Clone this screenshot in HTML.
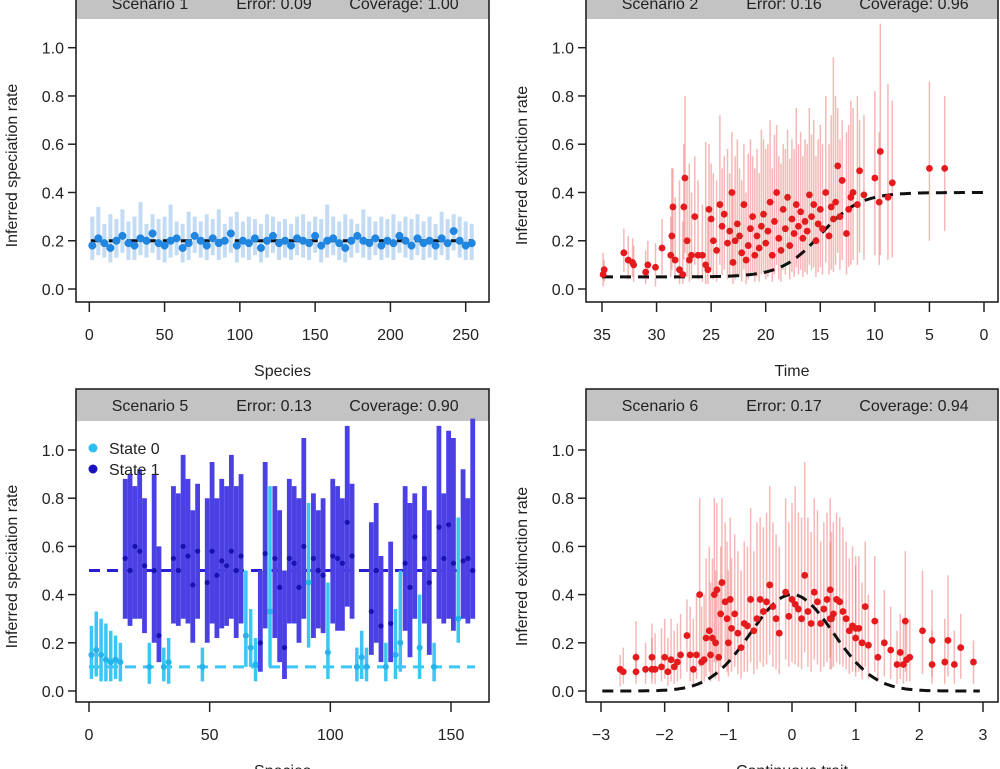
<!DOCTYPE html>
<html><head><meta charset="utf-8"><style>
html,body{margin:0;padding:0;background:#fff;}
svg{display:block;font-family:"Liberation Sans",Arial,sans-serif;}
</style></head><body>
<svg id="fig" width="1000" height="769" viewBox="0 0 1000 769"></svg>
<script>
// ---------- Panel 1 data (Scenario 1) ----------
const p1Mean=[0.18,0.21,0.19,0.17,0.2,0.22,0.19,0.18,0.21,0.2,0.23,0.19,0.18,0.2,0.21,0.17,0.19,0.22,0.2,0.18,0.21,0.19,0.2,0.23,0.18,0.2,0.19,0.21,0.17,0.2,0.22,0.19,0.2,0.18,0.21,0.2,0.19,0.22,0.18,0.2,0.21,0.19,0.17,0.2,0.22,0.2,0.19,0.21,0.18,0.2,0.19,0.22,0.2,0.18,0.21,0.19,0.2,0.18,0.21,0.19,0.24,0.2,0.18,0.19];
const p1Hi=[0.3,0.34,0.27,0.31,0.29,0.33,0.28,0.3,0.36,0.27,0.31,0.29,0.3,0.35,0.28,0.27,0.32,0.3,0.28,0.31,0.29,0.33,0.27,0.3,0.32,0.28,0.3,0.29,0.27,0.31,0.3,0.28,0.29,0.27,0.3,0.31,0.28,0.3,0.29,0.35,0.3,0.28,0.31,0.29,0.27,0.33,0.3,0.28,0.3,0.29,0.31,0.28,0.3,0.29,0.31,0.28,0.3,0.27,0.32,0.29,0.31,0.3,0.28,0.27];
const p1Lo=[0.12,0.14,0.13,0.11,0.13,0.15,0.12,0.12,0.14,0.13,0.15,0.12,0.11,0.13,0.14,0.11,0.12,0.15,0.13,0.12,0.14,0.12,0.13,0.15,0.11,0.13,0.12,0.14,0.11,0.13,0.15,0.12,0.13,0.12,0.14,0.13,0.12,0.15,0.11,0.13,0.14,0.12,0.11,0.13,0.15,0.13,0.12,0.14,0.12,0.13,0.12,0.15,0.13,0.12,0.14,0.12,0.13,0.12,0.14,0.12,0.16,0.13,0.12,0.12];
const p1Truth=[0.2];
// ---------- Panel 2 data (Scenario 2) ----------
const p2Time=[34.9,34.8,33.0,32.6,32.2,32.1,31.0,30.8,30.1,29.5,
28.7,28.6,28.5,28.3,27.9,27.6,27.5,27.4,27.2,27.0,
26.8,26.5,26.2,25.8,25.5,25.3,25.2,25.0,24.8,24.5,
24.2,24.0,23.8,23.5,23.3,23.1,23.0,22.8,22.6,22.4,
22.2,22.0,21.8,21.6,21.4,21.2,21.0,20.8,20.6,20.4,
20.2,20.0,19.8,19.6,19.4,19.2,19.0,18.8,18.6,18.4,
18.2,18.0,17.8,17.6,17.4,17.2,17.0,16.8,16.6,16.4,
16.2,16.0,15.8,15.6,15.4,15.2,15.0,14.8,14.5,14.2,
14.0,13.8,13.6,13.4,13.2,13.0,12.6,12.4,12.2,12.0,
11.6,11.4,11.0,10.0,9.6,9.5,8.8,8.4,5.0,3.6];
const p2Mean=[0.06,0.08,0.15,0.12,0.11,0.10,0.07,0.10,0.09,0.17,
0.14,0.22,0.34,0.12,0.08,0.06,0.34,0.46,0.20,0.12,
0.14,0.30,0.14,0.14,0.10,0.08,0.33,0.29,0.20,0.16,
0.35,0.26,0.31,0.19,0.24,0.40,0.11,0.20,0.27,0.22,
0.15,0.35,0.12,0.18,0.25,0.30,0.14,0.22,0.17,0.26,
0.31,0.19,0.24,0.36,0.14,0.28,0.40,0.21,0.16,0.33,
0.25,0.38,0.18,0.29,0.23,0.35,0.26,0.32,0.21,0.28,
0.24,0.39,0.30,0.35,0.20,0.27,0.33,0.25,0.40,0.22,
0.34,0.29,0.36,0.51,0.30,0.45,0.23,0.33,0.38,0.40,
0.35,0.49,0.39,0.46,0.36,0.57,0.38,0.44,0.50,0.50];
const p2Hi=[0.15,0.12,0.25,0.22,0.21,0.18,0.16,0.20,0.19,0.29,
0.30,0.50,0.50,0.38,0.45,0.28,0.60,0.80,0.45,0.52,
0.40,0.55,0.45,0.35,0.61,0.30,0.60,0.52,0.48,0.45,
0.72,0.50,0.55,0.58,0.48,0.65,0.40,0.55,0.62,0.50,
0.45,0.60,0.40,0.56,0.62,0.55,0.50,0.58,0.48,0.66,
0.62,0.58,0.60,0.70,0.50,0.64,0.68,0.55,0.52,0.60,
0.58,0.66,0.54,0.62,0.58,0.75,0.60,0.65,0.55,0.62,
0.60,0.75,0.64,0.70,0.55,0.62,0.68,0.60,0.80,0.60,
0.72,0.96,0.80,0.75,0.62,0.70,0.65,0.68,0.78,0.75,
0.80,0.70,0.72,0.82,0.65,1.10,0.85,0.78,0.86,0.80];
const p2Lo=[0.01,0.03,0.07,0.04,0.05,0.03,0.02,0.04,0.01,0.06,
0.05,0.08,0.12,0.04,0.02,0.02,0.12,0.15,0.05,0.03,
0.04,0.10,0.04,0.03,0.02,0.02,0.10,0.08,0.04,0.03,
0.10,0.06,0.08,0.04,0.06,0.10,0.02,0.04,0.06,0.05,
0.03,0.08,0.02,0.04,0.06,0.07,0.03,0.05,0.03,0.06,
0.07,0.04,0.05,0.08,0.03,0.06,0.10,0.04,0.03,0.08,
0.06,0.10,0.04,0.07,0.05,0.09,0.06,0.08,0.05,0.07,
0.06,0.10,0.08,0.09,0.05,0.07,0.09,0.06,0.11,0.06,
0.08,0.07,0.10,0.15,0.08,0.12,0.06,0.09,0.10,0.12,
0.10,0.15,0.12,0.14,0.10,0.14,0.12,0.13,0.20,0.24];
const p2Curve=[0.05,0.40,15,1.8]; // low, high, midpoint, scale
// ---------- Panel 3 data (Scenario 5) ----------
const p3State=[0,0,0,0,0,0,0,1,1,1, 1,1,0,1,1,0,0,1,1,1, 1,1,1,0,1,1,1,1,1,1, 1,1,0,0,0,1,1,0,1,1,
1,1,1,1,1,0,1,1,1,0, 1,1,1,1,1,0,0,0,1,1, 1,0,1,0,0,1,1,1,0,1, 1,0,1,1,1,1,0,1,1,1];
const p3Mean=[0.15,0.17,0.15,0.13,0.12,0.13,0.12,0.55,0.5,0.6, 0.58,0.52,0.1,0.5,0.23,0.1,0.12,0.55,0.5,0.6,
0.56,0.44,0.58,0.1,0.45,0.58,0.48,0.54,0.52,0.58, 0.5,0.56,0.23,0.18,0.11,0.2,0.57,0.33,0.55,0.43,
0.18,0.55,0.53,0.43,0.6,0.45,0.55,0.5,0.48,0.16, 0.56,0.55,0.53,0.7,0.56,0.1,0.14,0.1,0.33,0.5,
0.27,0.1,0.28,0.15,0.2,0.53,0.43,0.64,0.18,0.55, 0.45,0.1,0.68,0.55,0.69,0.53,0.3,0.54,0.55,0.5];
const p3Hi=[0.27,0.33,0.3,0.28,0.25,0.23,0.2,0.88,0.9,0.85, 0.92,0.8,0.2,0.9,0.6,0.18,0.22,0.85,0.82,0.98,
0.88,0.75,0.86,0.18,0.8,0.95,0.8,0.88,0.85,0.98, 0.85,0.9,0.5,0.34,0.22,0.5,0.95,0.85,0.85,0.75,
0.5,0.88,0.85,0.8,1.05,0.78,0.82,0.75,0.8,0.45, 0.88,0.85,0.8,1.1,0.86,0.18,0.25,0.18,0.7,0.78,
0.56,0.2,0.62,0.34,0.5,0.85,0.78,0.82,0.4,0.85, 0.75,0.2,1.1,0.82,1.08,1.05,0.72,0.92,0.8,1.13];
const p3Lo=[0.05,0.06,0.04,0.04,0.04,0.05,0.04,0.3,0.27,0.3, 0.3,0.24,0.03,0.2,0.12,0.04,0.03,0.28,0.27,0.3,
0.28,0.2,0.3,0.04,0.2,0.28,0.22,0.26,0.27,0.3, 0.22,0.28,0.1,0.1,0.04,0.08,0.26,0.1,0.22,0.12,
0.05,0.28,0.28,0.2,0.3,0.18,0.22,0.26,0.24,0.05, 0.28,0.25,0.25,0.35,0.3,0.04,0.05,0.04,0.15,0.2,
0.12,0.04,0.12,0.05,0.08,0.25,0.14,0.3,0.05,0.28, 0.15,0.04,0.3,0.28,0.3,0.25,0.2,0.3,0.28,0.3];
const p3Truth=[0.1,0.5];
// ---------- Panel 4 data (Scenario 6) ----------
const p4Trait=[-2.7,-2.65,-2.45,-2.45,-2.3,-2.2,-2.2,-2.15,-2.05,-2.0,
-1.95,-1.9,-1.85,-1.8,-1.75,-1.65,-1.6,-1.55,-1.5,-1.45,
-1.42,-1.38,-1.35,-1.3,-1.28,-1.25,-1.22,-1.2,-1.18,-1.15,
-1.12,-1.1,-1.05,-1.02,-1.0,-0.97,-0.95,-0.9,-0.85,-0.8,
-0.75,-0.7,-0.65,-0.6,-0.55,-0.5,-0.45,-0.4,-0.35,-0.3,
-0.25,-0.2,-0.1,-0.05,0.0,0.05,0.1,0.15,0.2,0.25,
0.3,0.35,0.4,0.45,0.5,0.55,0.6,0.62,0.65,0.7,
0.75,0.8,0.85,0.9,0.95,1.0,1.05,1.1,1.15,1.2,
1.3,1.35,1.45,1.55,1.65,1.7,1.75,1.78,1.8,1.85,
2.05,2.2,2.2,2.4,2.45,2.55,2.65,2.85,1.0,0.6];
const p4Mean=[0.09,0.08,0.14,0.08,0.09,0.14,0.09,0.09,0.1,0.14,
0.08,0.13,0.1,0.12,0.15,0.23,0.15,0.09,0.15,0.4,
0.12,0.13,0.22,0.25,0.15,0.22,0.4,0.2,0.42,0.14,
0.32,0.45,0.37,0.3,0.2,0.38,0.26,0.32,0.24,0.18,
0.28,0.27,0.38,0.25,0.3,0.38,0.33,0.37,0.44,0.35,
0.3,0.24,0.41,0.31,0.38,0.36,0.34,0.3,0.48,0.33,
0.28,0.41,0.37,0.28,0.34,0.38,0.42,0.3,0.32,0.38,
0.37,0.33,0.3,0.25,0.27,0.22,0.26,0.2,0.35,0.19,
0.29,0.14,0.2,0.17,0.11,0.16,0.11,0.29,0.13,0.14,
0.25,0.11,0.21,0.12,0.21,0.11,0.18,0.12,0.26,0.3];
const p4Hi=[0.15,0.18,0.29,0.16,0.2,0.28,0.22,0.24,0.26,0.3,
0.22,0.3,0.25,0.28,0.32,0.38,0.35,0.3,0.4,0.8,
0.35,0.4,0.55,0.6,0.45,0.55,0.8,0.5,0.78,0.45,
0.6,0.8,0.7,0.62,0.5,0.72,0.55,0.65,0.58,0.5,
0.62,0.6,0.76,0.58,0.7,0.72,0.68,0.74,0.85,0.7,
0.65,0.6,0.8,0.7,0.78,0.85,0.74,0.72,0.95,0.72,
0.66,0.8,0.75,0.62,0.7,0.74,0.8,0.66,0.7,0.74,
0.72,0.68,0.62,0.55,0.6,0.52,0.56,0.45,0.62,0.4,
0.56,0.3,0.42,0.35,0.25,0.32,0.28,0.58,0.3,0.3,
0.5,0.25,0.42,0.3,0.48,0.25,0.32,0.21,0.56,0.62];
const p4Lo=[0.02,0.03,0.06,0.03,0.03,0.05,0.03,0.03,0.04,0.05,
0.02,0.04,0.03,0.04,0.05,0.08,0.04,0.02,0.05,0.1,
0.04,0.04,0.06,0.08,0.04,0.06,0.12,0.05,0.12,0.04,
0.1,0.15,0.12,0.08,0.06,0.12,0.08,0.1,0.07,0.05,
0.08,0.08,0.12,0.07,0.09,0.12,0.1,0.11,0.15,0.1,
0.09,0.07,0.13,0.1,0.12,0.11,0.1,0.09,0.16,0.1,
0.08,0.13,0.11,0.08,0.1,0.12,0.14,0.09,0.1,0.12,
0.11,0.1,0.09,0.07,0.08,0.06,0.08,0.05,0.1,0.05,
0.08,0.04,0.06,0.05,0.03,0.05,0.03,0.08,0.04,0.04,
0.07,0.03,0.06,0.03,0.06,0.03,0.05,0.03,0.08,0.09];
const p4Curve=[0.4,0,0.645]; // peak, centre, sd
// ---------- tick labels ----------
const yTicks=[0,0.2,0.4,0.6,0.8,1.0];
const p1XTicks=[0,50,100,150,200,250];
const p2XTicks=[35,30,25,20,15,10,5,0];
const p3XTicks=[0,50,100,150];
const p4XTicks=[-3,-2,-1,0,1,2,3];

const NS='http://www.w3.org/2000/svg';
const svg=document.getElementById('fig');
function mk(tag,attrs,parent,name,inter){
  const e=document.createElementNS(NS,tag);
  for(const k in attrs)e.setAttribute(k,attrs[k]);
  
  
  (parent||svg).appendChild(e);return e;
}
function lin(d0,d1,p0,p1){return v=>p0+(v-d0)*(p1-p0)/(d1-d0);}
const FS=16;

function panel(cfg){
  const g=mk('g',{},svg,cfg.name,false);
  const sx=lin(cfg.xd[0],cfg.xd[1],cfg.xp[0],cfg.xp[1]);
  const sy=lin(0,1,cfg.y0,cfg.y1);
  mk('rect',{x:cfg.L,y:cfg.T,width:cfg.R-cfg.L,height:32,fill:'#c3c3c3'},g,'panel-header',false);
  const hy=cfg.T+22;
  cfg.header.forEach((h,i)=>{const t=mk('text',{x:cfg.L+[74,198,328][i],y:hy,'font-size':FS,'text-anchor':'middle',fill:'#222'},g,'header-'+['scenario','error','coverage'][i],false);t.textContent=h;});
  yTicks.forEach(v=>{
    mk('line',{x1:cfg.L-8,x2:cfg.L,y1:sy(v),y2:sy(v),stroke:'#222','stroke-width':1.5},g,'y-tick',false);
    const t=mk('text',{x:cfg.L-12,y:sy(v)+6,'font-size':FS,'text-anchor':'end',fill:'#222'},g,'y-tick-label',false);t.textContent=v.toFixed(1);
  });
  cfg.xticks.forEach(v=>{
    mk('line',{x1:sx(v),x2:sx(v),y1:cfg.B,y2:cfg.B+10,stroke:'#222','stroke-width':1.5},g,'x-tick',false);
    const t=mk('text',{x:sx(v),y:cfg.B+38,'font-size':FS,'text-anchor':'middle',fill:'#222'},g,'x-tick-label',false);t.textContent=v<0?'\u2212'+(-v):String(v);
  });
  const yt=mk('text',{x:0,y:0,'font-size':FS,'text-anchor':'middle',fill:'#222',transform:`translate(${cfg.L-59},${(cfg.T+32+cfg.B)/2+5}) rotate(-90)`},g,'y-axis-title',false);yt.textContent=cfg.ylab;
  const xt=mk('text',{x:(cfg.L+cfg.R)/2,y:cfg.B+74,'font-size':FS,'text-anchor':'middle',fill:'#222'},g,'x-axis-title',false);xt.textContent=cfg.xlab;
  const plot=mk('g',{},g,'plot-area',false);
  cfg.draw(plot,sx,sy);
  mk('rect',{x:cfg.L,y:cfg.T,width:cfg.R-cfg.L,height:cfg.B-cfg.T,fill:'none',stroke:'#222','stroke-width':1.6},g,'panel-frame',false);
}
function bars(g,xs,lo,hi,sx,sy,color,w,op,name){
  xs.forEach((x,i)=>{mk('line',{x1:sx(x),x2:sx(x),y1:sy(lo[i]),y2:sy(hi[i]),stroke:color,'stroke-width':w,'stroke-opacity':op},g,name,false);});
}
function dots(g,xs,ys,sx,sy,color,r,name){
  xs.forEach((x,i)=>{mk('circle',{cx:sx(x),cy:sy(ys[i]),r:r,fill:color},g,name,false);});
}
function curve(g,f,x0,x1,sx,sy,color,name){
  let d='';for(let k=0;k<=200;k++){const x=x0+(x1-x0)*k/200;d+=(k?'L':'M')+sx(x).toFixed(1)+','+sy(f(x)).toFixed(1);}
  mk('path',{d:d,fill:'none',stroke:color,'stroke-width':3,'stroke-dasharray':'11 7'},g,name,false);
}

const LEFT={L:76,R:489}, RIGHT={L:586,R:998};
const TOP={T:-13,B:302,y0:289,y1:47.7}, BOT={T:389,B:702,y0:691,y1:450};
const p1Species=p1Mean.map((_,i)=>2+i*4);
const p3Species=p3Mean.map((_,i)=>1+i*2);

panel(Object.assign({name:'panel-scenario-1',header:['Scenario 1','Error: 0.09','Coverage: 1.00'],xd:[0,250],xp:[89.3,465.7],xticks:p1XTicks,ylab:'Inferred speciation rate',xlab:'Species',
 draw:(g,sx,sy)=>{
  bars(g,p1Species,p1Lo,p1Hi,sx,sy,'#bcd8f3',4,0.9,'error-bar');
  curve(g,()=>p1Truth[0],1,255,sx,sy,'#111','true-rate-line');
  dots(g,p1Species,p1Mean,sx,sy,'#2186e0',4,'estimate-point');
 }},LEFT,TOP));

panel(Object.assign({name:'panel-scenario-2',header:['Scenario 2','Error: 0.16','Coverage: 0.96'],xd:[35,0],xp:[602,984],xticks:p2XTicks,ylab:'Inferred extinction rate',xlab:'Time',
 draw:(g,sx,sy)=>{
  bars(g,p2Time,p2Lo,p2Hi,sx,sy,'#f07070',1.5,0.5,'error-bar');
  const [lo,hi,mid,sc]=p2Curve;
  curve(g,t=>lo+(hi-lo)/(1+Math.exp((t-mid)/sc)),35,0,sx,sy,'#111','true-rate-line');
  dots(g,p2Time,p2Mean,sx,sy,'#e41a1c',3.4,'estimate-point');
 }},RIGHT,TOP));

panel(Object.assign({name:'panel-scenario-5',header:['Scenario 5','Error: 0.13','Coverage: 0.90'],xd:[0,150],xp:[89,451],xticks:p3XTicks,ylab:'Inferred speciation rate',xlab:'Species',
 draw:(g,sx,sy)=>{
  curve(g,()=>p3Truth[1],0,160,sx,sy,'#2a1fd0','true-rate-state-1');
  curve(g,()=>p3Truth[0],0,160,sx,sy,'#3cc6f3','true-rate-state-0');
  const idx0=p3State.map((s,i)=>s===0?i:-1).filter(i=>i>=0), idx1=p3State.map((s,i)=>s===1?i:-1).filter(i=>i>=0);
  const pick=(a,ix)=>ix.map(i=>a[i]);
  bars(g,pick(p3Species,idx0),pick(p3Lo,idx0),pick(p3Hi,idx0),sx,sy,'#3cc6f3',3.5,1,'error-bar-state-0');
  bars(g,pick(p3Species,idx1),pick(p3Lo,idx1),pick(p3Hi,idx1),sx,sy,'#4a40e4',4.8,1,'error-bar-state-1');
  dots(g,pick(p3Species,idx0),pick(p3Mean,idx0),sx,sy,'#27b3ea',3,'estimate-state-0');
  dots(g,pick(p3Species,idx1),pick(p3Mean,idx1),sx,sy,'#1a12b0',2.6,'estimate-state-1');
  const lg=mk('g',{},g,'legend',false);
  mk('circle',{cx:93,cy:448,r:4.5,fill:'#2cc0f2'},lg,'legend-marker-state-0',false);
  let t=mk('text',{x:109,y:454,'font-size':FS,fill:'#222'},lg,'legend-label-state-0',false);t.textContent='State 0';
  mk('circle',{cx:93,cy:469,r:4.5,fill:'#1a12c0'},lg,'legend-marker-state-1',false);
  t=mk('text',{x:109,y:475,'font-size':FS,fill:'#222'},lg,'legend-label-state-1',false);t.textContent='State 1';
 }},LEFT,BOT));

panel(Object.assign({name:'panel-scenario-6',header:['Scenario 6','Error: 0.17','Coverage: 0.94'],xd:[-3,3],xp:[601,983],xticks:p4XTicks,ylab:'Inferred extinction rate',xlab:'Continuous trait',
 draw:(g,sx,sy)=>{
  bars(g,p4Trait,p4Lo,p4Hi,sx,sy,'#f07070',1.5,0.5,'error-bar');
  const [pk,c,sd]=p4Curve;
  curve(g,x=>pk*Math.exp(-(x-c)*(x-c)/(2*sd*sd)),-2.98,2.95,sx,sy,'#111','true-rate-line');
  dots(g,p4Trait,p4Mean,sx,sy,'#e41a1c',3.4,'estimate-point');
 }},RIGHT,BOT));
</script>
</body></html>
